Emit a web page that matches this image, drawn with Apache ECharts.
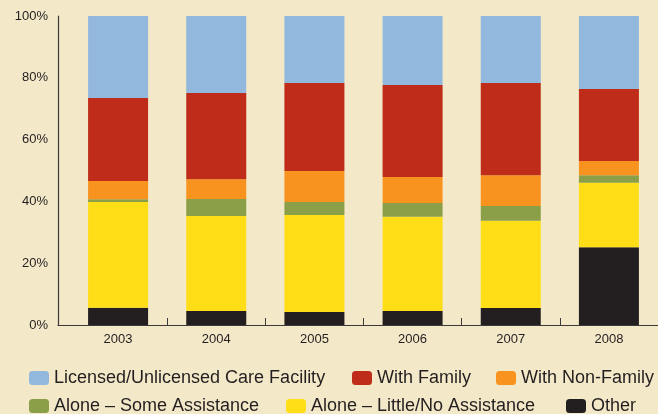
<!DOCTYPE html>
<html>
<head>
<meta charset="utf-8">
<script src="https://cdn.jsdelivr.net/npm/echarts@6/dist/echarts.min.js"></script>
<style>
  html, body { margin: 0; padding: 0; background: #f3e8c8; }
  #chart { width: 658px; height: 414px; }
</style>
</head>
<body>
<div id="chart"></div>
<script>
// 年份
const years = ['2003', '2004', '2005', '2006', '2007', '2008'];
// 各类别占比（%），从下往上堆叠
const other = [5.6, 4.5, 4.2, 4.5, 5.5, 25.2];
const aloneLittle = [34.2, 30.8, 31.4, 30.5, 28.2, 20.8];
const aloneSome = [0.9, 5.5, 4.2, 4.5, 4.8, 2.5];
const nonFamily = [5.9, 6.4, 10.0, 8.4, 10.0, 4.6];
const withFamily = [26.9, 27.9, 28.5, 29.8, 29.8, 23.3];
const facility = [26.5, 24.9, 21.7, 22.3, 21.7, 23.6];
// y轴刻度
const yTicks = [0, 20, 40, 60, 80, 100];

const textColor = '#231f20';
const font = 'Liberation Sans';

// 系列（堆叠顺序：底部到顶部）
const seriesDefs = [
    { name: 'Other', data: other, color: '#231f20' },
    { name: 'Alone \u2013 Little/No Assistance', data: aloneLittle, color: '#ffde17' },
    { name: 'Alone \u2013 Some Assistance', data: aloneSome, color: '#8a9f47' },
    { name: 'With Non-Family', data: nonFamily, color: '#f7931e' },
    { name: 'With Family', data: withFamily, color: '#bf2c19' },
    { name: 'Licensed/Unlicensed Care Facility', data: facility, color: '#92b8dd' }
];

// 图例位置（两行）
const legendPos = {
    'Licensed/Unlicensed Care Facility': [29, 369],
    'With Family': [352, 369],
    'With Non-Family': [496, 369],
    'Alone \u2013 Some Assistance': [29, 397],
    'Alone \u2013 Little/No Assistance': [286, 397],
    'Other': [566, 397]
};

const chart = echarts.init(document.getElementById('chart'));

const option = {
    backgroundColor: '#f3e8c8',
    animation: false,
    textStyle: { fontFamily: font, color: textColor },
    grid: [
        { left: 69, right: -3, top: 16, bottom: 89 },
        { left: 58, right: 0, top: 16, bottom: 89 } // 只用来画x轴线
    ],
    legend: Object.keys(legendPos).map(name => ({
        data: [name],
        left: legendPos[name][0],
        top: legendPos[name][1],
        padding: 0,
        itemWidth: 20,
        itemHeight: 14,
        itemGap: 0,
        itemStyle: { borderWidth: 0 },
        textStyle: { fontSize: 18, color: textColor, fontFamily: font },
        selectedMode: false
    })),
    xAxis: [
        {
            type: 'category',
            data: years,
            gridIndex: 0,
            axisLine: { show: false },
            axisTick: {
                show: true,
                inside: true,
                length: 7,
                interval: (index) => index !== 0,
                lineStyle: { color: '#3a3a3a', width: 1 }
            },
            axisLabel: { fontSize: 13, color: textColor, margin: 8, fontFamily: font }
        },
        {
            type: 'category',
            data: years,
            gridIndex: 1,
            axisLine: { show: true, lineStyle: { color: '#3a3a3a', width: 1.2 } },
            axisTick: { show: false },
            axisLabel: { show: false }
        }
    ],
    yAxis: [
        {
            type: 'value',
            gridIndex: 0,
            min: yTicks[0],
            max: yTicks[yTicks.length - 1],
            interval: 20,
            offset: 11,
            axisLine: { show: true, lineStyle: { color: '#3a3a3a', width: 1.2 } },
            axisTick: { show: false },
            splitLine: { show: false },
            axisLabel: {
                formatter: '{value}%',
                fontSize: 13,
                color: textColor,
                margin: 10,
                fontFamily: font
            }
        },
        {
            type: 'value',
            gridIndex: 1,
            show: false
        }
    ],
    series: seriesDefs.map(s => ({
        type: 'bar',
        name: s.name,
        stack: 'total',
        data: s.data,
        barWidth: 60,
        itemStyle: { color: s.color }
    }))
};

chart.setOption(option);
</script>
</body>
</html>
